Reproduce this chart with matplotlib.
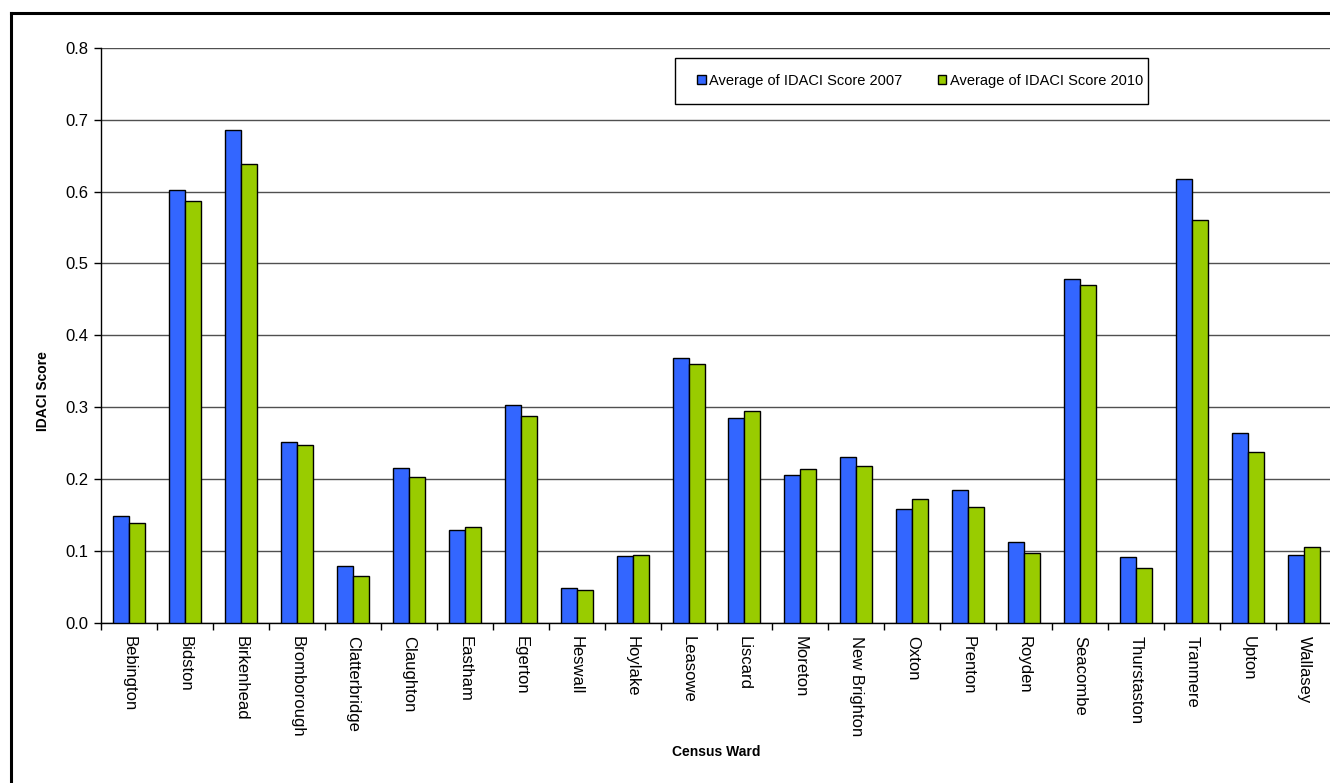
import matplotlib
matplotlib.use("Agg")
import matplotlib.pyplot as plt
import numpy as np
from matplotlib.lines import Line2D
from matplotlib.patches import Rectangle

plt.rcParams['font.family'] = ['Liberation Sans', 'DejaVu Sans']

wards = ["Bebington", "Bidston", "Birkenhead", "Bromborough", "Clatterbridge",
         "Claughton", "Eastham", "Egerton", "Heswall", "Hoylake", "Leasowe",
         "Liscard", "Moreton", "New Brighton", "Oxton", "Prenton", "Royden",
         "Seacombe", "Thurstaston", "Tranmere", "Upton", "Wallasey"]
score_2007 = [0.149, 0.602, 0.686, 0.251, 0.079, 0.215, 0.129, 0.303, 0.049,
              0.093, 0.369, 0.285, 0.206, 0.231, 0.158, 0.185, 0.113, 0.479,
              0.092, 0.618, 0.264, 0.095]
score_2010 = [0.139, 0.587, 0.638, 0.248, 0.065, 0.203, 0.133, 0.288, 0.046,
              0.094, 0.360, 0.295, 0.214, 0.218, 0.172, 0.162, 0.098, 0.470,
              0.076, 0.560, 0.238, 0.105]
y_ticks = [0.0, 0.1, 0.2, 0.3, 0.4, 0.5, 0.6, 0.7, 0.8]
series_names = ["Average of IDACI Score 2007", "Average of IDACI Score 2010"]

W, H = 1330, 783
fig = plt.figure(figsize=(W / 100, H / 100), dpi=100)
ax = fig.add_axes([101 / W, 1 - 623 / H, (1332 - 101) / W, (623 - 47.7) / H])

x = np.arange(len(wards))
bw = 0.286
ax.bar(x - bw / 2, score_2007, width=bw, color="#3366FF", edgecolor="black",
       linewidth=1.0, label=series_names[0], zorder=3)
ax.bar(x + bw / 2, score_2010, width=bw, color="#99CC00", edgecolor="black",
       linewidth=1.0, label=series_names[1], zorder=3)

ax.set_xlim(-0.5, len(wards) - 0.5)
ax.set_ylim(0, 0.8)
ax.set_yticks(y_ticks)
ax.set_yticklabels([f"{v:.1f}" for v in y_ticks], fontsize=12)
ax.yaxis.grid(True, color="#505050", linewidth=1.0, zorder=0)
ax.set_axisbelow(True)

ax.set_xticks(x)
ax.set_xticklabels(wards, rotation=270, fontsize=12, va="top", ha="center")
ax.set_xticks(np.arange(-0.5, len(wards)), minor=True)
ax.tick_params(axis="x", which="major", length=0, pad=9)
ax.tick_params(axis="x", which="minor", length=5, width=1, direction="out")
ax.tick_params(axis="y", length=5, width=1, direction="out", pad=4)

for s in ["top", "right"]:
    ax.spines[s].set_visible(False)
for s in ["left", "bottom"]:
    ax.spines[s].set_color("black")
    ax.spines[s].set_linewidth(1.0)

ax.set_ylabel("IDACI Score", fontsize=10, fontweight="bold")
ax.yaxis.set_label_coords(50 / W, 0.5, transform=fig.transFigure)
fig.text(716 / W, 1 - 752 / H, "Census Ward", fontsize=10, fontweight="bold",
         ha="center", va="center")

# legend frame drawn as a rectangle, legend entries without own frame
frame = Rectangle((675 / W, 1 - 104 / H), (1148 - 675) / W, (104 - 58) / H,
                  transform=fig.transFigure, facecolor="white",
                  edgecolor="black", linewidth=1.0, zorder=4, clip_on=False)
ax.add_patch(frame)

leg = ax.legend(loc="center left", ncol=2,
                bbox_to_anchor=(697 / W, 1 - 81 / H),
                bbox_transform=fig.transFigure, borderaxespad=0, borderpad=0,
                fontsize=10.5, frameon=False,
                handlelength=0.6, handleheight=0.6, handletextpad=0.25,
                columnspacing=2.4)
leg.set_zorder(5)
for h in leg.legend_handles:
    h.set_linewidth(1.0)

# outer chart frame
fig.add_artist(Line2D([10.5 / W, 10.5 / W], [0, 1 - 13 / H], transform=fig.transFigure,
                      color="black", linewidth=2.2))
fig.add_artist(Line2D([10.5 / W, 1], [1 - 13 / H, 1 - 13 / H], transform=fig.transFigure,
                      color="black", linewidth=2.2))

fig.savefig("out.png", dpi=100)
